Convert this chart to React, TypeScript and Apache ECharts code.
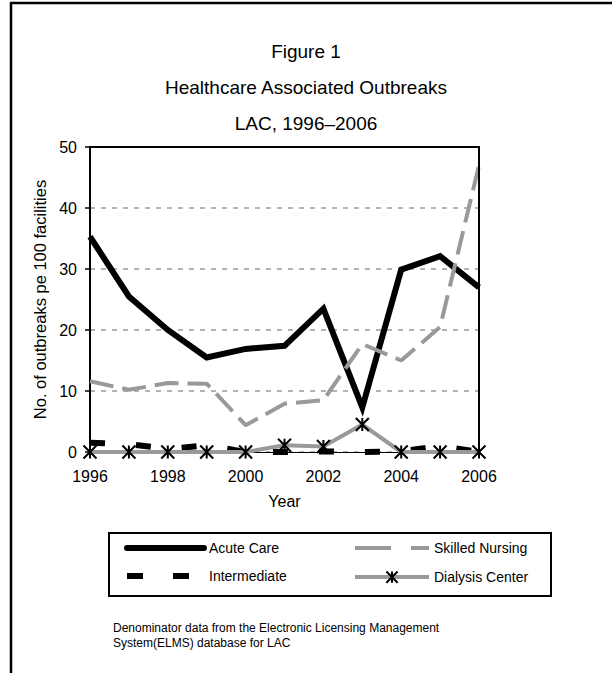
import React, { useEffect, useRef } from "react";
import * as echarts from "echarts";

const years = ["1996", "1997", "1998", "1999", "2000", "2001", "2002", "2003", "2004", "2005", "2006"];
const acuteCare = [35.3, 25.5, 20.0, 15.5, 16.9, 17.4, 23.5, 7.3, 29.9, 32.1, 27.0];
const skilledNursing = [11.6, 10.2, 11.3, 11.2, 4.4, 7.9, 8.5, 17.7, 15.0, 20.5, 47.0];
const intermediate = [1.5, 1.3, 0.5, 1.1, 0, 0, 0.1, 0, 0.1, 1.0, 0];
const dialysisCenter = [0, 0, 0, 0, 0, 1.1, 0.9, 4.5, 0, 0, 0];
const titleLines = ["Figure 1", "Healthcare Associated Outbreaks", "LAC, 1996\u20132006"];
const footnoteLines = [
  "Denominator data from the Electronic Licensing Management",
  "System(ELMS) database for LAC",
];

const FONT = "Liberation Sans, Arial, sans-serif";
const ASTERISK = "path://M0,0L10,10M10,0L0,10M5,0L5,10";

export default function App() {
  const ref = useRef<HTMLDivElement>(null);
  useEffect(() => {
    if (!ref.current) return;
    const chart = echarts.init(ref.current, null, { renderer: "svg" });
    const legendText = { fontSize: 14, color: "#000", fontFamily: FONT };
    chart.setOption({
      animation: false,
      backgroundColor: "#fff",
      textStyle: { fontFamily: FONT },
      title: {
        text: titleLines.join("\n"),
        left: "center",
        top: 28,
        textStyle: { fontSize: 19, fontWeight: "normal", color: "#000", lineHeight: 36, fontFamily: FONT },
      },
      grid: {
        left: 90,
        right: 133,
        top: 147,
        bottom: 221,
      },
      legend: [
        {
          data: [
            { name: "Acute Care", itemStyle: { opacity: 0 }, lineStyle: { width: 6, cap: "round" } },
            { name: "Intermediate", itemStyle: { opacity: 0 }, lineStyle: { width: 6, type: [16, 30] } },
          ],
          orient: "vertical",
          left: 124,
          top: 541,
          padding: 0,
          itemWidth: 77,
          itemHeight: 14,
          itemGap: 14,
          selectedMode: false,
          textStyle: legendText,
        },
        {
          data: [
            { name: "Skilled Nursing", itemStyle: { opacity: 0 }, lineStyle: { width: 4, type: [36, 20] } },
            { name: "Dialysis Center", lineStyle: { width: 4 } },
          ],
          orient: "vertical",
          left: 353,
          top: 541,
          padding: 0,
          itemWidth: 74,
          itemHeight: 14,
          itemGap: 14,
          selectedMode: false,
          textStyle: legendText,
        },
      ],
      xAxis: [
        {
          type: "category",
          data: years,
          boundaryGap: false,
          name: "Year",
          nameLocation: "middle",
          nameGap: 41,
          nameTextStyle: { fontSize: 16, color: "#000", fontFamily: FONT },
          axisLine: { lineStyle: { color: "#000", width: 1 } },
          axisTick: { show: false },
          axisLabel: { interval: 1, fontSize: 16, color: "#000", margin: 16, fontFamily: FONT },
          splitLine: { show: false },
        },
        {
          type: "category",
          data: years,
          boundaryGap: false,
          position: "top",
          axisLine: { show: true, onZero: false, lineStyle: { color: "#000", width: 2 } },
          axisTick: { show: false },
          axisLabel: { show: false },
          splitLine: { show: false },
          z: 5,
        },
      ],
      yAxis: [
        {
          type: "value",
          min: 0,
          max: 50,
          interval: 10,
          name: "No. of outbreaks pe 100 facilities",
          nameLocation: "middle",
          nameGap: 40,
          nameTextStyle: { fontSize: 16.5, color: "#000", fontFamily: FONT },
          axisLine: { show: true, lineStyle: { color: "#000", width: 2 } },
          axisTick: { show: true, inside: false, length: 5, lineStyle: { color: "#000", width: 1.5 } },
          axisLabel: { fontSize: 16, color: "#000", margin: 13, fontFamily: FONT },
          splitLine: { show: true, lineStyle: { color: "#b3b3b3", width: 2, type: [5, 6] } },
        },
        {
          type: "value",
          min: 0,
          max: 50,
          interval: 10,
          position: "right",
          axisLine: { show: true, onZero: false, lineStyle: { color: "#000", width: 2 } },
          axisTick: { show: false },
          axisLabel: { show: false },
          splitLine: { show: false },
          z: 5,
        },
      ],
      series: [
        {
          name: "Acute Care",
          type: "line",
          data: acuteCare,
          symbol: "none",
          lineStyle: { color: "#000", width: 6, join: "miter" },
          itemStyle: { color: "#000" },
          z: 3,
        },
        {
          name: "Skilled Nursing",
          type: "line",
          data: skilledNursing,
          symbol: "none",
          lineStyle: { color: "#999", width: 4, type: [24, 9] },
          itemStyle: { color: "#999" },
          z: 4,
        },
        {
          name: "Intermediate",
          type: "line",
          data: intermediate,
          symbol: "none",
          lineStyle: { color: "#000", width: 6, type: [15, 31] },
          itemStyle: { color: "#000" },
          z: 5,
        },
        {
          name: "Dialysis Center",
          type: "line",
          data: dialysisCenter,
          symbol: ASTERISK,
          symbolSize: 13,
          showAllSymbol: true,
          lineStyle: { color: "#999", width: 4 },
          itemStyle: { color: "none", borderColor: "#000", borderWidth: 2 },
          z: 6,
        },
      ],
      graphic: [
        { type: "line", shape: { x1: 10, y1: 3, x2: 612, y2: 3 }, style: { stroke: "#000", lineWidth: 2.5 } },
        { type: "line", shape: { x1: 11, y1: 2, x2: 11, y2: 673 }, style: { stroke: "#000", lineWidth: 2.5 } },
        {
          type: "rect",
          shape: { x: 109, y: 533, width: 442, height: 63 },
          style: { fill: "none", stroke: "#000", lineWidth: 2 },
          z: -1,
        },
        {
          type: "text",
          left: 113,
          top: 620,
          style: {
            text: footnoteLines.join("\n"),
            font: `12px ${FONT}`,
            fill: "#000",
            lineHeight: 15,
          },
        },
      ],
    });
    return () => chart.dispose();
  }, []);
  return <div ref={ref} style={{ position: "fixed", left: 0, top: 0, width: 612, height: 673 }} />;
}
